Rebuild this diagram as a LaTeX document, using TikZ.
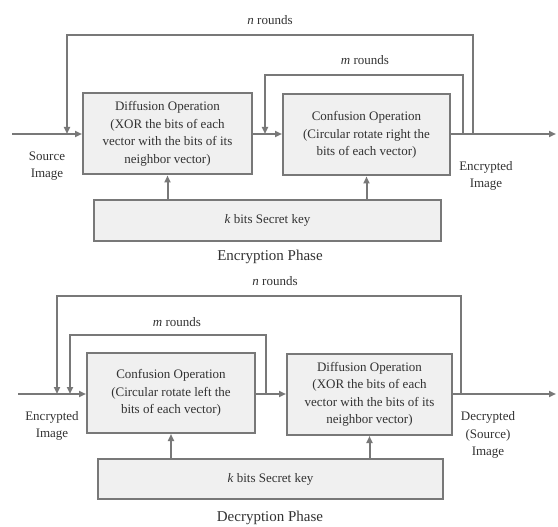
\documentclass[tikz,border=0pt]{standalone}
\usepackage{fontspec}
\setmainfont{Liberation Serif}
\usepackage{tikz}
\usetikzlibrary{arrows.meta, positioning, calc}
\definecolor{mygray}{RGB}{120,120,120}
\definecolor{mytext}{RGB}{50,50,50}
\definecolor{myfill}{RGB}{240,240,240}
\tikzset{
  opblock/.style={rectangle, draw=mygray, fill=myfill, line width=2pt, align=center, text=mytext, font=\fontsize{13}{17.5}\selectfont, inner sep=0pt},
  keyblock/.style={opblock, minimum width=347pt, minimum height=41pt},
  lbl/.style={align=center, text=mytext, font=\fontsize{13}{17.5}\selectfont},
  phase/.style={text=mytext, font=\fontsize{15}{18}\selectfont},
  arrow/.style={-{Triangle[length=7pt, width=6pt]}, line width=2pt, color=mygray},
  line/.style={line width=2pt, color=mygray}
}

\begin{document}
\begin{tikzpicture}[x=1pt, y=1pt]
  \useasboundingbox (0,0) rectangle (558,-527);

  % Encryption phase
  \node[opblock, minimum width=169pt, minimum height=81pt] (dif1) at (167.5,-134) {Diffusion Operation\\(XOR the bits of each\\vector with the bits of its\\neighbor vector)};
  \node[opblock, minimum width=167pt, minimum height=81pt] (conf1) at (366.5,-135) {Confusion Operation\\(Circular rotate right the\\bits of each vector)};
  \node[keyblock] (key1) at (267.5,-220.5) {\textit{k} bits Secret key};
  \coordinate (in1) at (12,-134);
  \coordinate (out1) at (556,-134);
  \coordinate (tapn1) at (473,-134);
  \coordinate (tapm1) at (463,-134);
  \coordinate (joinn1) at (67,-134);
  \coordinate (joinm1) at (265,-134);

  \draw[arrow] (in1) -- (dif1.west |- in1);
  \draw[arrow] (dif1.east |- in1) -- (conf1.west |- in1);
  \draw[arrow] (conf1.east |- in1) -- (out1);
  \draw[arrow] (tapn1) -- ++(0,99) -| (joinn1);
  \draw[arrow] (tapm1) -- ++(0,59) -| (joinm1);
  \draw[arrow] (key1.north -| dif1) -- (dif1);
  \draw[arrow] (key1.north -| conf1) -- (conf1);

  \node[lbl] (n1) at (270,-20) {\textit{n} rounds};
  \node[lbl] (m1) at (365,-60) {\textit{m} rounds};
  \node[lbl] (src1) at (47,-166) {Source\\Image};
  \node[lbl] (enc1) at (486,-176) {Encrypted\\Image};
  \node[phase] (ph1) at (270,-257) {Encryption Phase};

  % Decryption phase
  \node[opblock, minimum width=168pt, minimum height=80pt] (conf2) at (171,-393) {Confusion Operation\\(Circular rotate left the\\bits of each vector)};
  \node[opblock, minimum width=165pt, minimum height=81pt] (dif2) at (369.5,-394.5) {Diffusion Operation\\(XOR the bits of each\\vector with the bits of its\\neighbor vector)};
  \node[keyblock, minimum width=345pt, minimum height=40pt] (key2) at (270.5,-479) {\textit{k} bits Secret key};
  \coordinate (in2) at (18,-394);
  \coordinate (out2) at (556,-394);
  \coordinate (tapn2) at (461,-394);
  \coordinate (tapm2) at (266,-394);
  \coordinate (joinn2) at (57,-394);
  \coordinate (joinm2) at (70,-394);

  \draw[arrow] (in2) -- (conf2.west |- in2);
  \draw[arrow] (conf2.east |- in2) -- (dif2.west |- in2);
  \draw[arrow] (dif2.east |- in2) -- (out2);
  \draw[arrow] (tapn2) -- ++(0,98) -| (joinn2);
  \draw[arrow] (tapm2) -- ++(0,59) -| (joinm2);
  \draw[arrow] (key2.north -| conf2) -- (conf2);
  \draw[arrow] (key2.north -| dif2) -- (dif2);

  \node[lbl] (n2) at (275,-281) {\textit{n} rounds};
  \node[lbl] (m2) at (177,-322) {\textit{m} rounds};
  \node[lbl] (enc2) at (52,-426) {Encrypted\\Image};
  \node[lbl] (dec2) at (488,-435) {Decrypted\\(Source)\\Image};
  \node[phase] (ph2) at (270,-518) {Decryption Phase};
\end{tikzpicture}
\end{document}
